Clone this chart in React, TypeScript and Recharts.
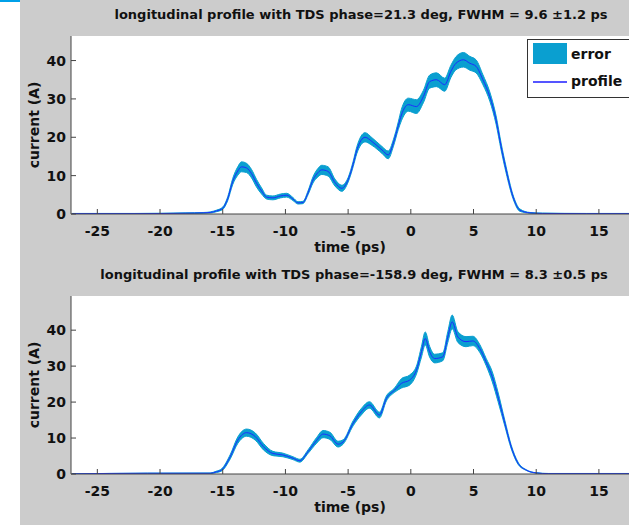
import { ComposedChart, Area, Line, XAxis, YAxis, CartesianGrid, Legend } from 'recharts';

// time axis (ps) and readings for the TDS phase = 21.3 deg profile
const timeA = [-27, -22, -18, -16.5, -16, -15.5, -15, -14.6, -14.2, -13.8, -13.5, -13.1, -12.7, -12.3, -11.9, -11.5, -11, -10.4, -9.9, -9.4, -9, -8.6, -8.2, -7.8, -7.4, -7.1, -6.6, -6.05, -5.5, -5, -4.6, -4.3, -3.65, -3.1, -2.3, -1.8, -1.4, -1, -0.75, -0.2, 0.45, 1, 1.5, 2.05, 2.7, 3.2, 3.6, 4.2, 4.7, 5.2, 5.75, 6.3, 6.8, 7.2, 7.6, 8.15, 8.7, 9.5, 10.5, 14, 17.4];
const profileA = [0.1, 0.1, 0.2, 0.3, 0.4, 0.8, 1.5, 4, 8.5, 11.2, 12.3, 12, 10.5, 8, 6, 4.4, 4.2, 4.7, 4.9, 3.9, 2.9, 3, 5.5, 8.9, 10.8, 11.5, 11.1, 8.2, 6.7, 8.9, 13, 16.7, 20, 18.9, 16.7, 15.4, 18.4, 23, 25.8, 28.5, 28, 30.6, 34.5, 35, 33.7, 37.2, 39.3, 40.2, 39.3, 38.5, 35, 30.6, 24.5, 17.6, 11.5, 4.5, 1, 0.3, 0.15, 0.1, 0.1];
const errorA = [0.05, 0.05, 0.1, 0.1, 0.15, 0.2, 0.3, 0.5, 0.8, 1.1, 1.3, 1.2, 1.1, 1, 0.8, 0.5, 0.5, 0.5, 0.5, 0.4, 0.3, 0.3, 0.5, 0.8, 1.1, 1.2, 1.2, 0.9, 0.8, 0.6, 0.7, 0.9, 1.2, 1, 0.9, 1, 0.9, 1, 1.5, 1.7, 1.8, 1.6, 1.7, 1.8, 1.7, 1.6, 1.7, 1.9, 1.8, 1.7, 1.3, 1.2, 1.1, 0.9, 0.8, 0.5, 0.3, 0.1, 0.1, 0.05, 0.05];

// time axis (ps) and readings for the TDS phase = -158.9 deg profile
const timeB = [-27, -21, -16, -15.5, -15.1, -14.4, -13.8, -13.1, -12.4, -11.75, -11, -10.2, -9.4, -8.85, -8.2, -7.5, -7, -6.45, -5.8, -5.4, -4.6, -3.95, -3.3, -2.5, -1.95, -1.3, -0.75, -0.1, 0.45, 0.85, 1.15, 1.5, 1.9, 2.55, 2.95, 3.3, 3.75, 4.4, 4.95, 5.5, 6, 6.5, 6.95, 7.5, 8, 8.55, 9.2, 10, 11, 17.4];
const profileB = [0.05, 0.2, 0.2, 0.6, 1.1, 4.8, 9.4, 11.5, 10.4, 7.6, 5.7, 5.3, 4.4, 3.7, 6.2, 9.4, 11.1, 10.6, 8.3, 8.9, 14.1, 17.3, 19.2, 16.4, 21, 23.3, 25.2, 26.1, 28.9, 34, 37.7, 34, 32.1, 32.6, 38.1, 42.3, 38.1, 36.8, 37, 34.9, 31.2, 27, 21.5, 14.1, 7.6, 3, 1.1, 0.3, 0.1, 0.1];
const errorB = [0.02, 0.05, 0.1, 0.2, 0.3, 0.6, 0.9, 1, 1, 0.9, 0.6, 0.5, 0.4, 0.4, 0.5, 0.8, 1, 1, 0.8, 0.6, 0.7, 0.9, 0.9, 0.8, 0.7, 0.6, 1.3, 1.4, 1.1, 1.5, 1.8, 1.5, 1.2, 1.1, 1.5, 1.9, 1.5, 1.4, 1.3, 1.1, 1, 1.4, 1.3, 0.8, 0.5, 0.3, 0.1, 0.05, 0.05, 0.05];

const xTicks = [-25, -20, -15, -10, -5, 0, 5, 10, 15];
const yTicks = [0, 10, 20, 30, 40];

const titleA = 'longitudinal profile with TDS phase=21.3 deg, FWHM = 9.6 \u00b11.2 ps';
const titleB = 'longitudinal profile with TDS phase=-158.9 deg, FWHM = 8.3 \u00b10.5 ps';

const FONT = '"DejaVu Sans", sans-serif';
const BAND = '#0a9fd0';
const LINE = '#1e2cff';

function build(t: number[], p: number[], e: number[]) {
  return t.map((x, i) => ({ t: x, profile: p[i], band: [p[i] - e[i], p[i] + e[i]] }));
}

const XTick = (props: any) => {
  const { x, y, payload } = props;
  return (
    <g>
      <line x1={x} x2={x} y1={y} y2={y - 5} stroke="#444" />
      <text x={x} y={y + 17} textAnchor="middle" dominantBaseline="central" fontFamily={FONT} fontWeight="bold" fontSize={14} fill="#111">
        {payload.value}
      </text>
    </g>
  );
};

const YTick = (props: any) => {
  const { x, y, payload } = props;
  return (
    <g>
      <line x1={x} x2={x + 5} y1={y} y2={y} stroke="#444" />
      <text x={x - 5} y={y} textAnchor="end" dominantBaseline="central" fontFamily={FONT} fontWeight="bold" fontSize={14} fill="#111">
        {payload.value}
      </text>
    </g>
  );
};

const LegendBox = () => (
  <div style={{ width: 110, height: 57, background: '#fff', border: '1px solid #333', position: 'relative', fontFamily: FONT, fontWeight: 'bold', fontSize: 14, color: '#111' }}>
    <div style={{ position: 'absolute', left: 5, top: 3, width: 34, height: 21, background: BAND }} />
    <div style={{ position: 'absolute', left: 43, top: 4, lineHeight: '20px' }}>error</div>
    <div style={{ position: 'absolute', left: 5, top: 41, width: 34, height: 1.5, background: '#5555ff' }} />
    <div style={{ position: 'absolute', left: 43, top: 31, lineHeight: '20px' }}>profile</div>
  </div>
);

function Panel({ data, yMax, legend }: { data: any[]; yMax: number; legend?: boolean }) {
  return (
    <ComposedChart width={629} height={265} data={data} margin={{ top: 36, right: 0, bottom: 11, left: 0 }}>
      <CartesianGrid fill="#fff" horizontal={false} vertical={false} />
      <XAxis
        dataKey="t"
        type="number"
        domain={[-27.1, 17.4]}
        allowDataOverflow
        ticks={xTicks}
        tick={<XTick />}
        tickSize={0}
        tickMargin={0}
        height={40}
        axisLine={{ stroke: '#444' }}
        label={{ value: 'time (ps)', position: 'insideTop', offset: 28, fontFamily: FONT, fontWeight: 'bold', fontSize: 14, fill: '#111' }}
      />
      <YAxis
        type="number"
        domain={[0, yMax]}
        allowDataOverflow
        ticks={yTicks}
        tick={<YTick />}
        tickSize={0}
        tickMargin={0}
        width={71}
        axisLine={{ stroke: '#444' }}
        label={{ value: 'current (A)', angle: -90, position: 'insideLeft', offset: 34, fontFamily: FONT, fontWeight: 'bold', fontSize: 14, fill: '#111', style: { textAnchor: 'middle' } }}
      />
      {legend && (
        <Legend
          layout="horizontal"
          verticalAlign="middle"
          align="center"
          content={() => <LegendBox />}
          wrapperStyle={{ position: 'absolute', left: 527, top: 39, width: 110, height: 59 }}
        />
      )}
      <Area type="monotone" dataKey="band" stroke={BAND} strokeWidth={1} fill={BAND} fillOpacity={1} isAnimationActive={false} />
      <Line type="monotone" dataKey="profile" stroke={LINE} strokeWidth={1} dot={false} isAnimationActive={false} />
    </ComposedChart>
  );
}

export default function App() {
  const dataA = build(timeA, profileA, errorA);
  const dataB = build(timeB, profileB, errorB);
  const titleStyle: any = { position: 'absolute', transform: 'translateX(-50%)', whiteSpace: 'nowrap', fontFamily: FONT, fontWeight: 'bold', fontSize: 13, color: '#111', lineHeight: '16px' };
  return (
    <div style={{ position: 'absolute', left: 0, top: 0, width: 629, height: 525, background: '#fff', overflow: 'hidden' }}>
      <div style={{ position: 'absolute', left: 0, top: 0, width: 20, height: 2, background: '#00a0e8' }} />
      <div style={{ position: 'absolute', left: 20, top: 0, width: 609, height: 525, background: '#cccccc' }} />
      <div style={{ ...titleStyle, left: 361, top: 7 }}>{titleA}</div>
      <div style={{ ...titleStyle, left: 354, top: 267 }}>{titleB}</div>
      <div style={{ position: 'absolute', left: 0, top: 0 }}>
        <Panel data={dataA} yMax={46.4} legend />
      </div>
      <div style={{ position: 'absolute', left: 0, top: 260 }}>
        <Panel data={dataB} yMax={49.5} />
      </div>
    </div>
  );
}
